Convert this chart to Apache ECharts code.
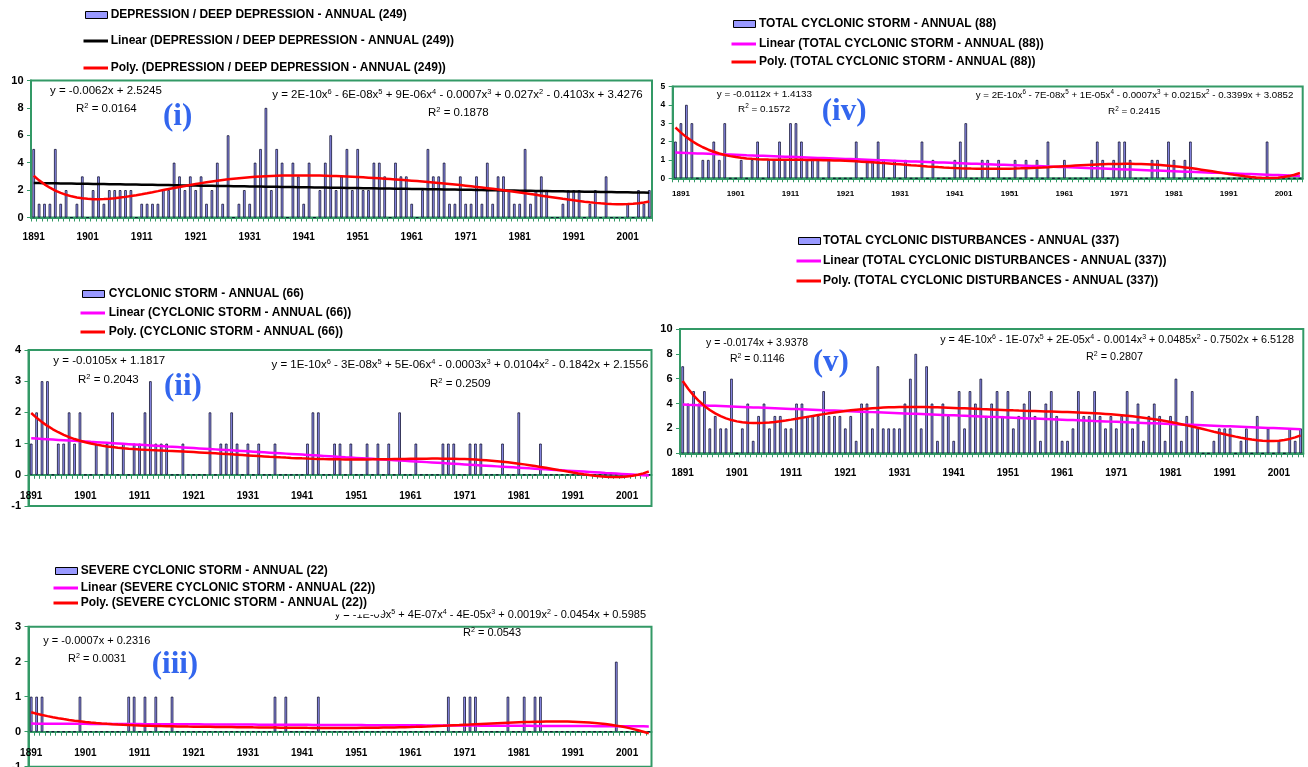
<!DOCTYPE html>
<html><head><meta charset="utf-8">
<script src="https://cdn.jsdelivr.net/npm/echarts@6/dist/echarts.min.js"></script>
<style>html,body{margin:0;padding:0;background:#fff}#c{width:1308px;height:767px}</style>
</head><body><div id="c"></div>
<script>
// ---------------- DATA ----------------
const years = [
1891,1892,1893,1894,1895,1896,1897,1898,1899,1900,
1901,1902,1903,1904,1905,1906,1907,1908,1909,1910,
1911,1912,1913,1914,1915,1916,1917,1918,1919,1920,
1921,1922,1923,1924,1925,1926,1927,1928,1929,1930,
1931,1932,1933,1934,1935,1936,1937,1938,1939,1940,
1941,1942,1943,1944,1945,1946,1947,1948,1949,1950,
1951,1952,1953,1954,1955,1956,1957,1958,1959,1960,
1961,1962,1963,1964,1965,1966,1967,1968,1969,1970,
1971,1972,1973,1974,1975,1976,1977,1978,1979,1980,
1981,1982,1983,1984,1985,1986,1987,1988,1989,1990,
1991,1992,1993,1994,1995,1996,1997,1998,1999,2000,
2001,2002,2003,2004,2005].map(String);

// (i) Depression / deep depression
const depression = [
5,1,1,1,5,1,2,0,1,3,
0,2,3,1,2,2,2,2,2,0,
1,1,1,1,2,2,4,3,2,3,
2,3,1,2,4,1,6,0,1,2,
1,4,5,8,2,5,4,0,4,3,
1,4,0,2,4,6,2,3,5,2,
5,2,2,4,4,3,0,4,3,3,
1,0,2,5,3,3,4,1,1,3,
1,1,3,1,4,1,3,3,2,1,
1,5,1,2,3,2,0,0,1,2,
2,2,0,1,2,0,3,0,0,0,
1,0,2,1,2];

// (ii) Cyclonic storm
const cyclonicStorm = [
1,2,3,3,0,1,1,2,1,2,
0,0,1,0,1,2,0,1,0,1,
1,2,3,1,1,1,0,0,1,0,
0,0,0,2,0,1,1,2,1,0,
1,0,1,0,0,1,0,0,0,0,
0,1,2,2,0,0,1,1,0,1,
0,0,1,0,1,0,1,0,2,0,
0,1,0,0,0,0,1,1,1,0,
0,1,1,1,0,0,0,1,0,0,
2,0,0,0,1,0,0,0,0,0,
0,0,0,0,0,0,0,0,0,0,
0,0,0,0,0];

// (iii) Severe cyclonic storm
const severeStorm = [
1,1,1,0,0,0,0,0,0,1,
0,0,0,0,0,0,0,0,1,1,
0,1,0,1,0,0,1,0,0,0,
0,0,0,0,0,0,0,0,0,0,
0,0,0,0,0,1,0,1,0,0,
0,0,0,1,0,0,0,0,0,0,
0,0,0,0,0,0,0,0,0,0,
0,0,0,0,0,0,0,1,0,0,
1,1,1,0,0,0,0,0,1,0,
0,1,0,1,1,0,0,0,0,0,
0,0,0,0,0,0,0,0,2,0,
0,0,0,0,0];

// (iv) Total cyclonic storm
const totalStorm = [
2,3,4,3,0,1,1,2,1,3,
0,0,1,0,1,2,0,1,1,2,
1,3,3,2,1,1,1,0,1,0,
0,0,0,2,0,1,1,2,1,0,
1,0,1,0,0,2,0,1,0,0,
0,1,2,3,0,0,1,1,0,1,
0,0,1,0,1,0,1,0,2,0,
0,1,0,0,0,0,1,2,1,0,
1,2,2,1,0,0,0,1,1,0,
2,1,0,1,2,0,0,0,0,0,
0,0,0,0,0,0,0,0,2,0,
0,0,0,0,0];

// (v) Total cyclonic disturbances
const totalDisturbances = [
7,4,5,4,5,2,3,2,2,6,
0,2,4,1,3,4,2,3,3,2,
2,4,4,3,3,3,5,3,3,3,
2,3,1,4,4,2,7,2,2,2,
2,4,6,8,2,7,4,1,4,3,
1,5,2,5,4,6,3,4,5,3,
5,2,3,4,5,3,1,4,5,3,
1,1,2,5,3,3,5,3,2,3,
2,3,5,2,4,1,3,4,3,1,
3,6,1,3,5,2,0,0,1,2,
2,2,0,1,2,0,3,0,2,0,
1,0,2,1,2];

const seriesNames = [
 'DEPRESSION / DEEP DEPRESSION - ANNUAL (249)',
 'CYCLONIC STORM - ANNUAL (66)',
 'SEVERE CYCLONIC STORM - ANNUAL (22)',
 'TOTAL CYCLONIC STORM - ANNUAL (88)',
 'TOTAL CYCLONIC DISTURBANCES - ANNUAL (337)'
];
const panelLabels = ['(i)','(ii)','(iii)','(iv)','(v)'];
const linearEqs = ['y = -0.0062x + 2.5245','y = -0.0105x + 1.1817','y = -0.0007x + 0.2316','y = -0.0112x + 1.4133','y = -0.0174x + 3.9378'];
const linearR2 = ['0.0164','0.2043','0.0031','0.1572','0.1146'];
const polyEqs = [
 'y = 2E-10x^6 - 6E-08x^5 + 9E-06x^4 - 0.0007x^3 + 0.027x^2 - 0.4103x + 3.4276',
 'y = 1E-10x^6 - 3E-08x^5 + 5E-06x^4 - 0.0003x^3 + 0.0104x^2 - 0.1842x + 2.1556',
 'y = -1E-09x^5 + 4E-07x^4 - 4E-05x^3 + 0.0019x^2 - 0.0454x + 0.5985',
 'y = 2E-10x^6 - 7E-08x^5 + 1E-05x^4 - 0.0007x^3 + 0.0215x^2 - 0.3399x + 3.0852',
 'y = 4E-10x^6 - 1E-07x^5 + 2E-05x^4 - 0.0014x^3 + 0.0485x^2 - 0.7502x + 6.5128'
];
const polyR2 = ['0.1878','0.2509','0.0543','0.2415','0.2807'];
const polyDegree = [6,6,5,6,6];
const yMin = [0,-1,-1,0,0];
const yMax = [10,4,3,5,10];
const yStep = [2,1,1,1,2];

// ---------------- STYLE / LAYOUT ----------------
const GREEN = '#339966';
const FONT = 'Liberation Sans, Arial, sans-serif';
const SERIF = 'Liberation Serif, Times New Roman, serif';
const L = [
 {grid:[31,80.5,621,137], xf:10, yf:11, xm:15, xpad:0, lin:'#000000',
  leg:{x:85.5, tx:110.7, ys:[15,41,68]},
  linPos:[50,90.7], linR2Pos:[76,109], linF:11.5,
  polyRight:642.7, polyY:95, polyF:11.5, polyR2Pos:[428,113], polyR2F:11.5, lab:[163,117]},
 {grid:[28.5,350,623,156], xf:10, yf:11, xm:-15, xpad:0, lin:'#ff00ff',
  leg:{x:82.5, tx:108.7, ys:[294,313,332]},
  linPos:[53.3,360.7], linR2Pos:[78,380], linF:11.5,
  polyRight:648.3, polyY:365, polyF:11.5, polyR2Pos:[430,384.3], polyR2F:11.5, lab:[164,386.7]},
 {grid:[28.5,626.7,623,140], xf:10, yf:11, xm:-18.5, xpad:0, lin:'#ff00ff',
  leg:{x:55.5, tx:80.7, ys:[571,588,603]},
  linPos:[43.3,641], linR2Pos:[68,659], linF:11,
  polyRight:646, polyY:615, polyF:11, polyR2Pos:[463,633.3], polyR2F:11, lab:[151.7,665]},
 {grid:[672.7,86.5,630,91.8], xf:8, yf:8.5, xm:11, xpad:11, lin:'#ff00ff',
  leg:{x:733.5, tx:759, ys:[24,44,62]},
  linPos:[716.7,94], linR2Pos:[738,109.3], linF:9.9,
  polyRight:1293.3, polyY:95, polyF:9.7, polyR2Pos:[1108,111.7], polyR2F:9.9, lab:[821.7,111.7]},
 {grid:[680,329,623.3,124.3], xf:10, yf:11, xm:14.5, xpad:0, lin:'#ff00ff',
  leg:{x:798.5, tx:823, ys:[241,261,281]},
  linPos:[706,342.7], linR2Pos:[730,359.3], linF:10.5,
  polyRight:1294, polyY:340, polyF:10.8, polyR2Pos:[1086,357.3], polyR2F:10.8, lab:[812.7,362.7]}
];

// least-squares polynomial trend (x = 1..N, like the spreadsheet trendline)
function trend(ys, deg) {
  const n = ys.length, c = (n + 1) / 2, s = (n - 1) / 2, m = deg + 1;
  const ts = ys.map((_, i) => ((i + 1) - c) / s);
  const A = Array.from({length: m}, () => new Array(m + 1).fill(0));
  for (let i = 0; i < n; i++) {
    const p = []; let v = 1;
    for (let k = 0; k < m; k++) { p.push(v); v *= ts[i]; }
    for (let r = 0; r < m; r++) { for (let q = 0; q < m; q++) A[r][q] += p[r] * p[q]; A[r][m] += p[r] * ys[i]; }
  }
  for (let col = 0; col < m; col++) {
    let piv = col;
    for (let r = col + 1; r < m; r++) if (Math.abs(A[r][col]) > Math.abs(A[piv][col])) piv = r;
    const tmp = A[col]; A[col] = A[piv]; A[piv] = tmp;
    for (let r = 0; r < m; r++) {
      if (r === col) continue;
      const f = A[r][col] / A[col][col];
      for (let q = col; q <= m; q++) A[r][q] -= f * A[col][q];
    }
  }
  const coef = A.map((row, i) => row[m] / row[i]);
  return ts.map(t => { let v = 0, p = 1; for (let k = 0; k < m; k++) { v += coef[k] * p; p *= t; } return +v.toFixed(4); });
}

function richEq(str) {
  const parts = str.split(/\^(\d)/);
  let out = '';
  parts.forEach((p, i) => { if (!p) return; out += (i % 2 ? '{s|' + p + '}' : '{n|' + p + '}'); });
  return out;
}
function richStyle(fs) {
  return {
    n: {fontSize: fs, fontFamily: FONT, fill: '#000', lineHeight: fs + 2},
    s: {fontSize: fs * 0.65, fontFamily: FONT, fill: '#000', lineHeight: fs * 0.65, verticalAlign: 'top'}
  };
}

const dataSets = [depression, cyclonicStorm, severeStorm, totalStorm, totalDisturbances];
const grids = [], xAxes = [], yAxes = [], series = [], graphics = [];

dataSets.forEach((data, p) => {
  const g = L[p];
  grids.push({left: g.grid[0], top: g.grid[1], width: g.grid[2], height: g.grid[3],
    show: true, borderColor: GREEN, borderWidth: 2, backgroundColor: 'rgba(0,0,0,0)', containLabel: false,
    outerBoundsMode: 'none'});
  xAxes.push({type: 'category', gridIndex: p, data: years, boundaryGap: true,
    axisLine: {show: true, onZero: true, lineStyle: {color: GREEN, width: 2}},
    axisTick: {show: true, interval: 0, length: 4, lineStyle: {color: GREEN, width: 1}},
    axisLabel: {interval: 9, fontSize: g.xf, fontWeight: 'bold', fontFamily: FONT, color: '#000', margin: g.xm,
      padding: [0, 0, 0, g.xpad]},
    splitLine: {show: false}});
  yAxes.push({type: 'value', gridIndex: p, min: yMin[p], max: yMax[p], interval: yStep[p],
    axisLine: {show: true, lineStyle: {color: GREEN, width: 2}},
    axisTick: {show: true, length: 4, lineStyle: {color: GREEN, width: 1}},
    axisLabel: {fontSize: g.yf, fontWeight: 'bold', fontFamily: FONT, color: '#000', margin: 7.5},
    splitLine: {show: false}});
  series.push({type: 'bar', name: seriesNames[p], xAxisIndex: p, yAxisIndex: p, data: data,
    barWidth: 2.6, silent: true,
    itemStyle: {color: '#9999ff', borderColor: '#101030', borderWidth: 0.8}});
  series.push({type: 'line', name: 'Linear (' + seriesNames[p] + ')', xAxisIndex: p, yAxisIndex: p,
    data: trend(data, 1), symbol: 'none', silent: true, z: 3,
    lineStyle: {color: g.lin, width: 2.5}});
  series.push({type: 'line', name: 'Poly. (' + seriesNames[p] + ')', xAxisIndex: p, yAxisIndex: p,
    data: trend(data, polyDegree[p]), symbol: 'none', silent: true, z: 4,
    lineStyle: {color: '#ff0000', width: 2.5}});

  // trendline labels
  graphics.push({type: 'text', x: g.linPos[0], y: g.linPos[1], z: 100,
    style: {text: linearEqs[p], fontSize: g.linF, fontFamily: FONT, fill: '#000', align: 'left', verticalAlign: 'middle'}});
  graphics.push({type: 'text', x: g.linR2Pos[0], y: g.linR2Pos[1], z: 100,
    style: {text: '{n|R}{s|2}{n| = ' + linearR2[p] + '}', rich: richStyle(g.linF), align: 'left', verticalAlign: 'middle'}});
  graphics.push({type: 'text', x: g.polyRight, y: g.polyY, z: 100,
    style: {text: richEq(polyEqs[p]), rich: richStyle(g.polyF), align: 'right', verticalAlign: 'middle'}});
  graphics.push({type: 'text', x: g.polyR2Pos[0], y: g.polyR2Pos[1], z: 100,
    style: {text: '{n|R}{s|2}{n| = ' + polyR2[p] + '}', rich: richStyle(g.polyR2F), align: 'left', verticalAlign: 'middle'}});
  // panel label
  graphics.push({type: 'text', x: g.lab[0], y: g.lab[1], z: 100,
    style: {text: panelLabels[p], fontSize: 31, fontWeight: 'bold', fontFamily: SERIF, fill: '#3366ee', align: 'left', verticalAlign: 'middle'}});

  // legend
  const lg = g.leg;
  if (p === 2) {
    graphics.push({type: 'rect', z: 101, shape: {x: 48, y: 558, width: 335, height: 56.5}, style: {fill: '#ffffff'}});
  }
  graphics.push({type: 'rect', z: 102, shape: {x: lg.x, y: lg.ys[0] - 3.5, width: 22, height: 7},
    style: {fill: '#9999ff', stroke: '#000000', lineWidth: 1}});
  graphics.push({type: 'line', z: 102, shape: {x1: lg.x - 2, y1: lg.ys[1], x2: lg.x + 22.5, y2: lg.ys[1]},
    style: {stroke: g.lin, lineWidth: 3}});
  graphics.push({type: 'line', z: 102, shape: {x1: lg.x - 2, y1: lg.ys[2], x2: lg.x + 22.5, y2: lg.ys[2]},
    style: {stroke: '#ff0000', lineWidth: 3}});
  const legTexts = [seriesNames[p], 'Linear (' + seriesNames[p] + ')', 'Poly. (' + seriesNames[p] + ')'];
  legTexts.forEach((t, k) => {
    graphics.push({type: 'text', z: 102, x: lg.tx, y: lg.ys[k],
      style: {text: t, fontSize: 12, fontWeight: 'bold', fontFamily: FONT, fill: '#000', align: 'left', verticalAlign: 'middle'}});
  });
});

const chart = echarts.init(document.getElementById('c'), null, {renderer: 'canvas', width: 1308, height: 767});
chart.setOption({
  animation: false,
  backgroundColor: '#ffffff',
  grid: grids, xAxis: xAxes, yAxis: yAxes, series: series, graphic: graphics
});
</script></body></html>
